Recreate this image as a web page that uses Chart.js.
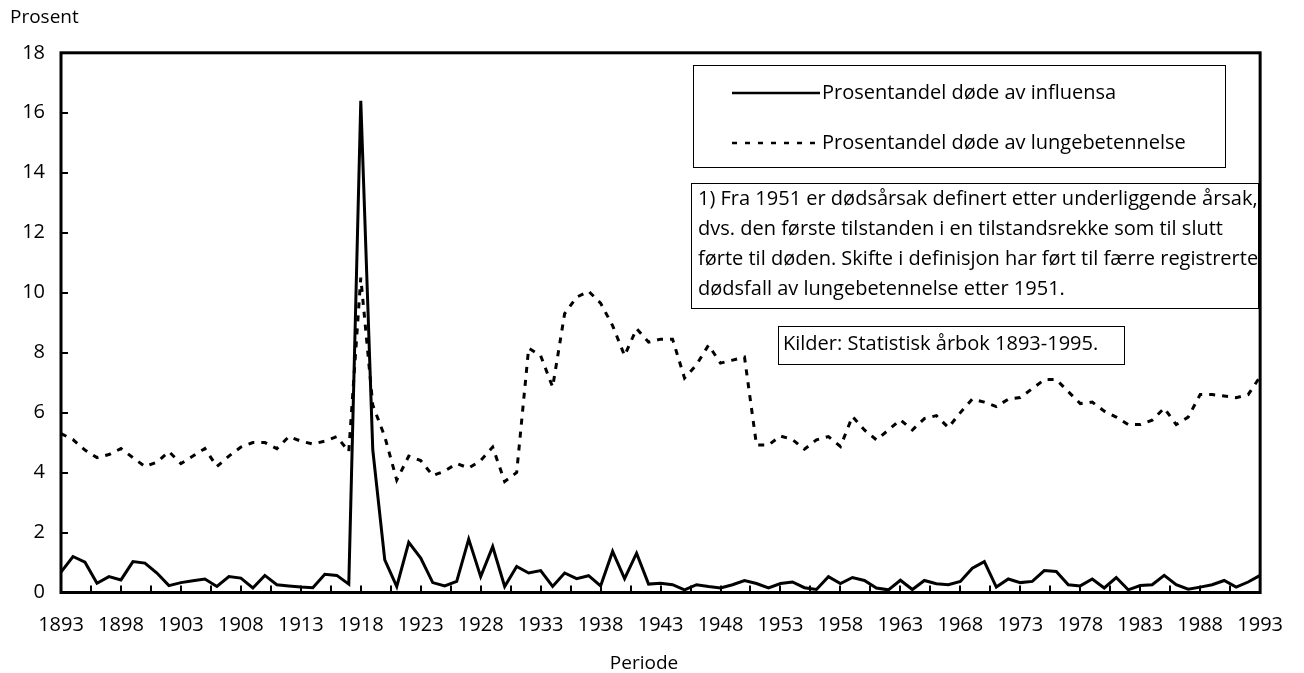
<!DOCTYPE html>
<html lang="no">
<head>
<meta charset="utf-8">
<title>Influensa og lungebetennelse 1893–1993</title>
<script src="https://cdn.jsdelivr.net/npm/chart.js@4.4.1/dist/chart.umd.min.js"></script>
<style>
  html, body { margin: 0; padding: 0; background: #fff; }
  #wrap { width: 1304px; height: 673px; }
</style>
</head>
<body>
<div id="wrap"><canvas id="chart" width="1304" height="673"></canvas></div>
<script>
// Years on the category axis
const years = [
  1893, 1894, 1895, 1896, 1897, 1898, 1899, 1900, 1901, 1902,
  1903, 1904, 1905, 1906, 1907, 1908, 1909, 1910, 1911, 1912,
  1913, 1914, 1915, 1916, 1917, 1918, 1919, 1920, 1921, 1922,
  1923, 1924, 1925, 1926, 1927, 1928, 1929, 1930, 1931, 1932,
  1933, 1934, 1935, 1936, 1937, 1938, 1939, 1940, 1941, 1942,
  1943, 1944, 1945, 1946, 1947, 1948, 1949, 1950, 1951, 1952,
  1953, 1954, 1955, 1956, 1957, 1958, 1959, 1960, 1961, 1962,
  1963, 1964, 1965, 1966, 1967, 1968, 1969, 1970, 1971, 1972,
  1973, 1974, 1975, 1976, 1977, 1978, 1979, 1980, 1981, 1982,
  1983, 1984, 1985, 1986, 1987, 1988, 1989, 1990, 1991, 1992,
  1993
];

// Share of all deaths caused by influenza (per cent)
const influenza = [
  0.68, 1.20, 1.01, 0.31, 0.53, 0.42, 1.03, 0.98, 0.65, 0.23,
  0.33, 0.39, 0.45, 0.20, 0.53, 0.48, 0.15, 0.57, 0.26, 0.22,
  0.18, 0.16, 0.61, 0.57, 0.28, 16.4, 4.76, 1.09, 0.20, 1.67,
  1.15, 0.33, 0.22, 0.37, 1.78, 0.53, 1.53, 0.20, 0.87, 0.65,
  0.73, 0.20, 0.65, 0.46, 0.56, 0.22, 1.37, 0.46, 1.31, 0.28,
  0.31, 0.26, 0.09, 0.26, 0.20, 0.15, 0.26, 0.40, 0.30, 0.15,
  0.30, 0.35, 0.16, 0.10, 0.53, 0.30, 0.50, 0.40, 0.15, 0.09,
  0.41, 0.10, 0.40, 0.29, 0.26, 0.37, 0.81, 1.03, 0.18, 0.45,
  0.33, 0.37, 0.73, 0.70, 0.26, 0.22, 0.45, 0.15, 0.50, 0.09,
  0.23, 0.26, 0.57, 0.26, 0.11, 0.18, 0.26, 0.40, 0.18, 0.35,
  0.57
];

// Share of all deaths caused by pneumonia (per cent)
const pneumonia = [
  5.30, 5.10, 4.75, 4.50, 4.60, 4.80, 4.50, 4.20, 4.35, 4.70,
  4.30, 4.55, 4.80, 4.20, 4.55, 4.85, 5.00, 5.00, 4.80, 5.20,
  5.05, 4.95, 5.05, 5.20, 4.70, 10.5, 6.25, 5.20, 3.75, 4.55,
  4.40, 3.90, 4.05, 4.30, 4.15, 4.40, 4.85, 3.70, 4.00, 8.15,
  7.90, 6.85, 9.30, 9.85, 10.05, 9.65, 8.90, 7.90, 8.80, 8.35,
  8.45, 8.45, 7.15, 7.60, 8.25, 7.65, 7.75, 7.85, 4.92, 4.92,
  5.22, 5.10, 4.78, 5.09, 5.20, 4.87, 5.87, 5.42, 5.09, 5.42,
  5.76, 5.42, 5.80, 5.90, 5.50, 6.00, 6.45, 6.35, 6.20, 6.45,
  6.50, 6.80, 7.10, 7.10, 6.70, 6.30, 6.35, 6.05, 5.85, 5.60,
  5.60, 5.75, 6.15, 5.60, 5.85, 6.60, 6.60, 6.55, 6.50, 6.60,
  7.20
];

// Years that carry a label on the time axis
const labelledYears = [
  1893, 1898, 1903, 1908, 1913, 1918, 1923, 1928, 1933, 1938, 1943,
  1948, 1953, 1958, 1963, 1968, 1973, 1978, 1983, 1988, 1993
];
// Value axis ticks
const percentTicks = [0, 2, 4, 6, 8, 10, 12, 14, 16, 18];
// Spacing of the small inward tick marks on the time axis, in years
const minorTickStep = 2.5;

const seriesNames = [
  'Prosentandel døde av influensa',
  'Prosentandel døde av lungebetennelse'
];
const noteLines = [
  '1) Fra 1951 er dødsårsak definert etter underliggende årsak,',
  'dvs. den første tilstanden i en tilstandsrekke som til slutt',
  'førte til døden. Skifte i definisjon har ført til færre registrerte',
  'dødsfall av lungebetennelse etter 1951.'
];
const sourceNote = 'Kilder: Statistisk årbok 1893-1995.';
const valueAxisTitle = 'Prosent';
const timeAxisTitle = 'Periode';

const FONT = '"Open Sans", "Noto Sans", "DejaVu Sans", sans-serif';

// Thick frame round the plot area plus short tick marks pointing inwards
const frameAndTicks = {
  id: 'frameAndTicks',
  afterDatasetsDraw(chart) {
    const { ctx, chartArea: a, scales: { x, y } } = chart;
    ctx.save();
    ctx.strokeStyle = '#000';
    ctx.lineWidth = 2;
    ctx.beginPath();
    y.ticks.forEach(t => {
      const py = Math.round(y.getPixelForValue(t.value));
      ctx.moveTo(a.left, py);
      ctx.lineTo(a.left + 7, py);
    });
    for (let i = 0; i <= years.length - 1 + 1e-6; i += minorTickStep) {
      const px = Math.round(x.getPixelForValue(i));
      ctx.moveTo(px, a.bottom);
      ctx.lineTo(px, a.bottom - 7);
    }
    ctx.stroke();
    ctx.lineWidth = 3;
    ctx.strokeRect(a.left, a.top, a.right - a.left, a.bottom - a.top);
    ctx.restore();
  }
};

// Legend box, definition note and source box inside the plot
const panels = {
  id: 'panels',
  afterDraw(chart) {
    const ctx = chart.ctx;
    ctx.save();
    ctx.font = '20px ' + FONT;
    ctx.fillStyle = '#000';

    function box(x, y, w, h) {
      ctx.save();
      ctx.fillStyle = '#fff';
      ctx.fillRect(x, y, w, h);
      ctx.strokeStyle = '#000';
      ctx.lineWidth = 1;
      ctx.strokeRect(x + 0.5, y + 0.5, w, h);
      ctx.restore();
    }

    // legend
    box(693, 65, 532, 102);
    chart.data.datasets.forEach((ds, i) => {
      const yy = 93 + i * 50;
      ctx.save();
      ctx.strokeStyle = ds.borderColor;
      ctx.lineWidth = 2.5;
      ctx.setLineDash(i === 0 ? [] : [5, 8]);
      ctx.beginPath();
      ctx.moveTo(732, yy);
      ctx.lineTo(820, yy);
      ctx.stroke();
      ctx.restore();
      ctx.textBaseline = 'middle';
      ctx.textAlign = 'left';
      ctx.fillText(ds.label, 822, yy);
    });

    // definition note
    box(691, 183, 567, 125);
    ctx.textBaseline = 'alphabetic';
    noteLines.forEach((line, i) => ctx.fillText(line, 698, 205 + i * 30));

    // sources
    box(778, 326, 346, 38);
    ctx.fillText(sourceNote, 783, 350);
    ctx.restore();
  }
};

function draw() {
  new Chart(document.getElementById('chart'), {
    type: 'line',
    data: {
      labels: years,
      datasets: [
        {
          label: seriesNames[0],
          data: influenza,
          borderColor: '#000',
          borderWidth: 3,
          pointRadius: 0,
          tension: 0,
          fill: false
        },
        {
          label: seriesNames[1],
          data: pneumonia,
          borderColor: '#000',
          borderWidth: 3,
          borderDash: [6, 7],
          pointRadius: 0,
          tension: 0,
          fill: false
        }
      ]
    },
    options: {
      responsive: false,
      animation: false,
      events: [],
      layout: { padding: { left: 10, right: 26, top: 0, bottom: 0 } },
      scales: {
        x: {
          type: 'category',
          offset: false,
          grid: { display: false, drawTicks: false },
          border: { display: false },
          ticks: {
            autoSkip: false,
            maxRotation: 0,
            minRotation: 0,
            padding: 21,
            color: '#000',
            font: { family: FONT, size: 20, lineHeight: 1.2 },
            callback: (value, index) =>
              labelledYears.includes(years[index]) ? String(years[index]) : ''
          },
          afterFit: s => { s.height = 45.5; }
        },
        y: {
          min: 0,
          max: 18,
          grid: { display: false, drawTicks: false },
          border: { display: false },
          afterBuildTicks: s => { s.ticks = percentTicks.map(v => ({ value: v })); },
          ticks: {
            padding: 16,
            color: '#000',
            font: { family: FONT, size: 20 }
          },
          afterFit: s => { s.width = 51; }
        }
      },
      plugins: {
        legend: { display: false },
        tooltip: { enabled: false },
        title: {
          display: true,
          text: valueAxisTitle,
          align: 'start',
          color: '#000',
          font: { family: FONT, size: 19, weight: 'normal', lineHeight: 1.2 },
          padding: { top: 6, bottom: 24 }
        },
        subtitle: {
          display: true,
          text: timeAxisTitle,
          position: 'bottom',
          color: '#000',
          font: { family: FONT, size: 19, weight: 'normal', lineHeight: 1 },
          padding: { top: 16, bottom: 0 }
        }
      }
    },
    plugins: [frameAndTicks, panels]
  });
}

if (document.fonts && document.fonts.load) {
  document.fonts.load('20px "Open Sans"').then(draw, draw);
} else {
  draw();
}
</script>
</body>
</html>
